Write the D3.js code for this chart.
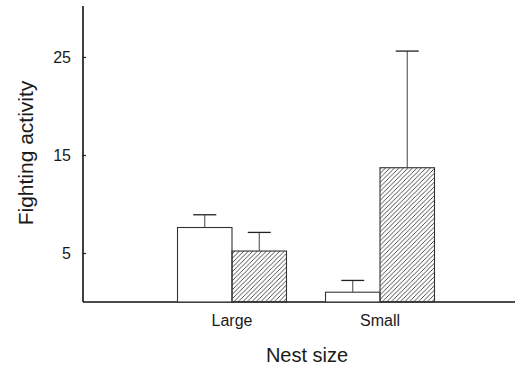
<!DOCTYPE html>
<html>
<head>
<meta charset="utf-8">
<script src="https://cdn.jsdelivr.net/npm/d3@7"></script>
<style>
  body { margin: 0; background: #fff; }
  text { font-family: "Liberation Sans", Arial, sans-serif; fill: #1a1a1a; }
</style>
</head>
<body>
<div id="chart"></div>
<script>
// Nest size vs fighting activity, two treatments (open / hatched bars)
const categories = ["Large", "Small"];
const series = ["open", "hatched"];
const openMeans = [7.6, 1.0];
const openErrors = [1.3, 1.2];
const hatchedMeans = [5.2, 13.7];
const hatchedErrors = [1.9, 11.9];
const yTicks = [5, 15, 25];

const width = 518;
const height = 368;
const margin = {left: 83, right: 3, top: 6, bottom: 66};

const svg = d3.select("#chart")
  .append("svg")
  .attr("width", width)
  .attr("height", height);

// hatch pattern for second series
const defs = svg.append("defs");
defs.append("pattern")
  .attr("id", "hatch")
  .attr("patternUnits", "userSpaceOnUse")
  .attr("width", 4.5)
  .attr("height", 4.5)
  .append("path")
    .attr("d", "M-1,1 L1,-1 M0,4.5 L4.5,0 M3.5,5.5 L5.5,3.5")
    .attr("stroke", "#222")
    .attr("stroke-width", 0.8);

// build rows from the arrays
const rows = [];
categories.forEach((c, i) => {
  rows.push({cat: c, s: "open", mean: openMeans[i], err: openErrors[i]});
  rows.push({cat: c, s: "hatched", mean: hatchedMeans[i], err: hatchedErrors[i]});
});

// scales
const yScale = d3.scaleLinear()
  .domain([0, 30.2])
  .range([height - margin.bottom, margin.top]);

const xScale = d3.scaleBand()
  .domain(categories)
  .range([158, 454])
  .padding(0);

const xInner = d3.scaleBand()
  .domain(series)
  .range([0, xScale.bandwidth()])
  .paddingInner(0)
  .paddingOuter(0.358);

// y axis (ticks point inward)
const yAxis = svg.append("g")
  .attr("transform", `translate(${margin.left},0)`)
  .call(d3.axisRight(yScale).tickValues(yTicks).tickSize(3).tickFormat(d3.format("d")));
yAxis.select(".domain").remove();
yAxis.selectAll(".tick line").attr("stroke", "#222").attr("stroke-width", 1.2);
yAxis.selectAll(".tick text")
  .attr("x", -12)
  .attr("text-anchor", "end")
  .attr("font-size", "16px");

svg.append("line")
  .attr("x1", margin.left).attr("x2", margin.left)
  .attr("y1", margin.top).attr("y2", yScale(0))
  .attr("stroke", "#111").attr("stroke-width", 1.6);

// x axis baseline
const xAxis = svg.append("g")
  .attr("transform", `translate(0,${yScale(0)})`)
  .call(d3.axisBottom(xScale).tickSize(0).tickPadding(13));
xAxis.select(".domain").remove();
xAxis.selectAll(".tick text").attr("font-size", "16px");

svg.append("line")
  .attr("x1", margin.left).attr("x2", width - margin.right)
  .attr("y1", yScale(0)).attr("y2", yScale(0))
  .attr("stroke", "#111").attr("stroke-width", 1.6);

// bars
svg.selectAll(".bar")
  .data(rows)
  .enter()
  .append("rect")
    .attr("class", "bar")
    .attr("x", d => xScale(d.cat) + xInner(d.s))
    .attr("y", d => yScale(d.mean))
    .attr("width", xInner.bandwidth())
    .attr("height", d => yScale(0) - yScale(d.mean))
    .attr("fill", d => d.s === "hatched" ? "url(#hatch)" : "#fff")
    .attr("stroke", "#333")
    .attr("stroke-width", 1.1);

// error bars (upper only)
const capW = 23;
const eb = svg.selectAll(".err")
  .data(rows)
  .enter()
  .append("g")
    .attr("class", "err");
eb.append("line")
  .attr("x1", d => xScale(d.cat) + xInner(d.s) + xInner.bandwidth() / 2)
  .attr("x2", d => xScale(d.cat) + xInner(d.s) + xInner.bandwidth() / 2)
  .attr("y1", d => yScale(d.mean))
  .attr("y2", d => yScale(d.mean + d.err))
  .attr("stroke", "#444").attr("stroke-width", 1);
eb.append("line")
  .attr("x1", d => xScale(d.cat) + xInner(d.s) + xInner.bandwidth() / 2 - capW / 2)
  .attr("x2", d => xScale(d.cat) + xInner(d.s) + xInner.bandwidth() / 2 + capW / 2)
  .attr("y1", d => yScale(d.mean + d.err))
  .attr("y2", d => yScale(d.mean + d.err))
  .attr("stroke", "#222").attr("stroke-width", 1.3);

// axis titles
svg.append("text")
  .attr("x", 307)
  .attr("y", 362)
  .attr("text-anchor", "middle")
  .attr("font-size", "20px")
  .text("Nest size");

svg.append("text")
  .attr("transform", "translate(33,153) rotate(-90)")
  .attr("text-anchor", "middle")
  .attr("font-size", "21px")
  .text("Fighting activity");
</script>
</body>
</html>
